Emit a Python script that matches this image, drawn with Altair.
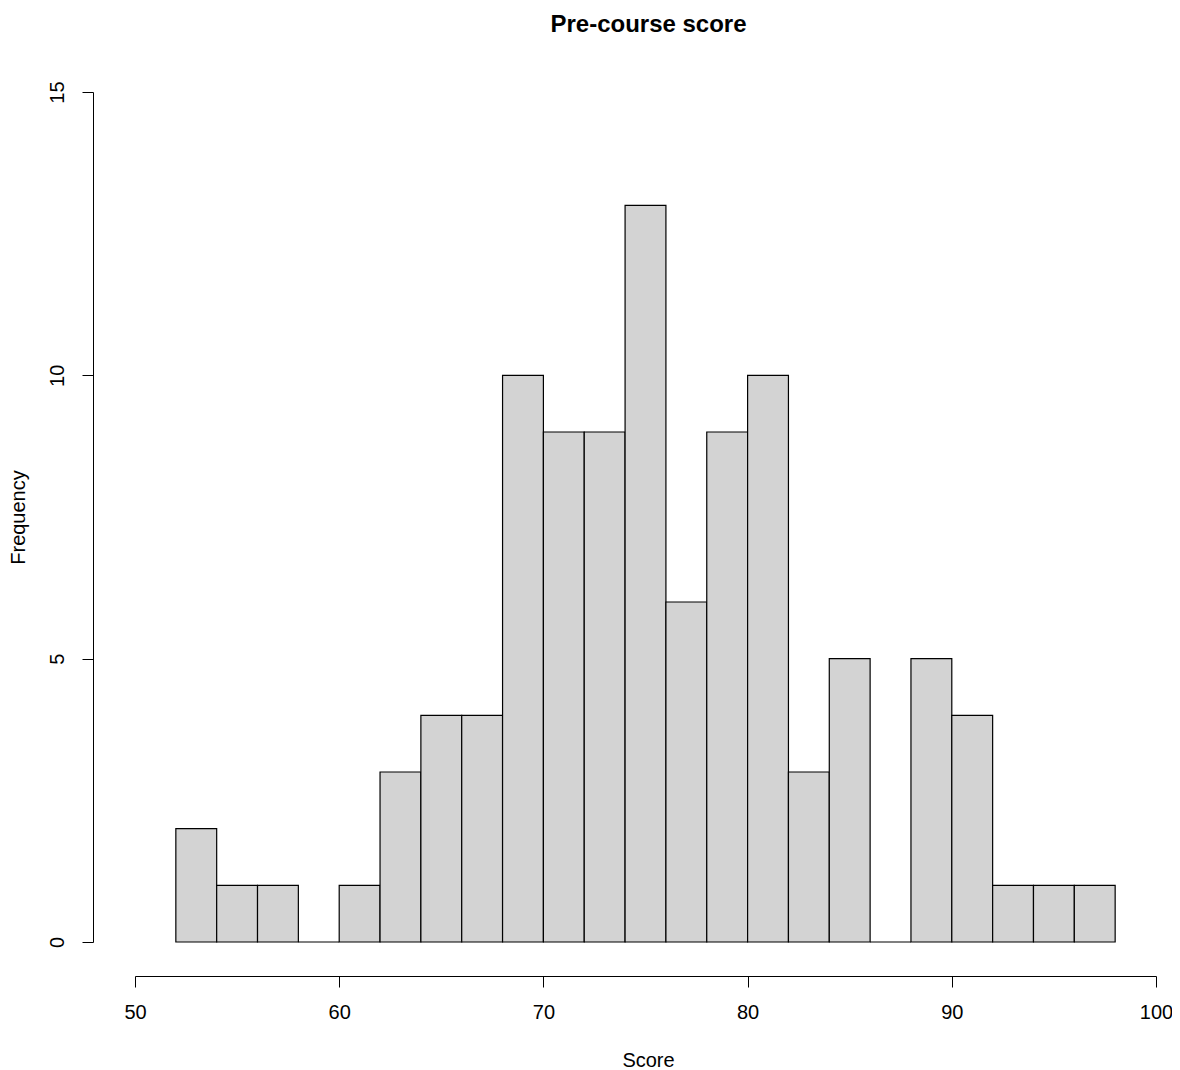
import altair as alt
import pandas as pd

# Histogram bins (score) and frequencies
bin_start = [52, 54, 56, 58, 60, 62, 64, 66, 68, 70, 72, 74, 76, 78, 80, 82, 84, 86, 88, 90, 92, 94, 96]
bin_end = [54, 56, 58, 60, 62, 64, 66, 68, 70, 72, 74, 76, 78, 80, 82, 84, 86, 88, 90, 92, 94, 96, 98]
counts = [2, 1, 1, 0, 1, 3, 4, 4, 10, 9, 9, 13, 6, 9, 10, 3, 5, 0, 5, 4, 1, 1, 1]

x_ticks = [50, 60, 70, 80, 90, 100]
y_ticks = [0, 5, 10, 15]

df = pd.DataFrame({"start": bin_start, "end": bin_end, "count": counts})

FONT = "Liberation Sans"
W, H = 1021, 850

chart = (
    alt.Chart(df)
    .mark_bar(fill="#D3D3D3", stroke="black", strokeWidth=1.2)
    .encode(
        x=alt.X(
            "start:Q",
            scale=alt.Scale(domain=[50, 100], nice=False, zero=False),
            axis=alt.Axis(
                values=x_ticks, grid=False, offset=34,
                domainColor="black", domainWidth=1, tickColor="black", tickWidth=1, tickSize=11,
                labelFont=FONT, labelFontSize=20, labelColor="black", labelPadding=25,
                labelBaseline="middle", labelAngle=0, labelFlush=False, labelOverlap=False,
                title="Score", titleFont=FONT, titleFontSize=20, titleFontWeight="normal",
                titleColor="black", titleX=513, titleY=84, titleAlign="center",
                titleBaseline="middle",
            ),
        ),
        x2="end:Q",
        y=alt.Y(
            "count:Q",
            stack=None,
            scale=alt.Scale(domain=[0, 15], nice=False, zero=True),
            axis=alt.Axis(
                values=y_ticks, grid=False, offset=42,
                domainColor="black", domainWidth=1, tickColor="black", tickWidth=1, tickSize=11,
                labelFont=FONT, labelFontSize=20, labelColor="black", labelPadding=25,
                labelAngle=270, labelAlign="center", labelBaseline="middle",
                labelFlush=False, labelOverlap=False,
                title="Frequency", titleFont=FONT, titleFontSize=20, titleFontWeight="normal",
                titleColor="black", titleAngle=270, titleX=-75, titleY=H / 2,
                titleAlign="center", titleBaseline="middle",
            ),
        ),
        y2=alt.datum(0),
    )
    .properties(
        width=W,
        height=H,
        autosize=alt.AutoSizeParams(type="none"),
        padding={"left": 127, "top": 84, "right": 16, "bottom": 130},
        title=alt.TitleParams(
            "Pre-course score", font=FONT, fontSize=24, fontWeight="bold",
            color="black", anchor="middle", frame="group", offset=44, dx=3,
        ),
    )
    .configure_view(stroke=None)
)

chart.save("out.html", embed_options={"renderer": "svg", "actions": False})
